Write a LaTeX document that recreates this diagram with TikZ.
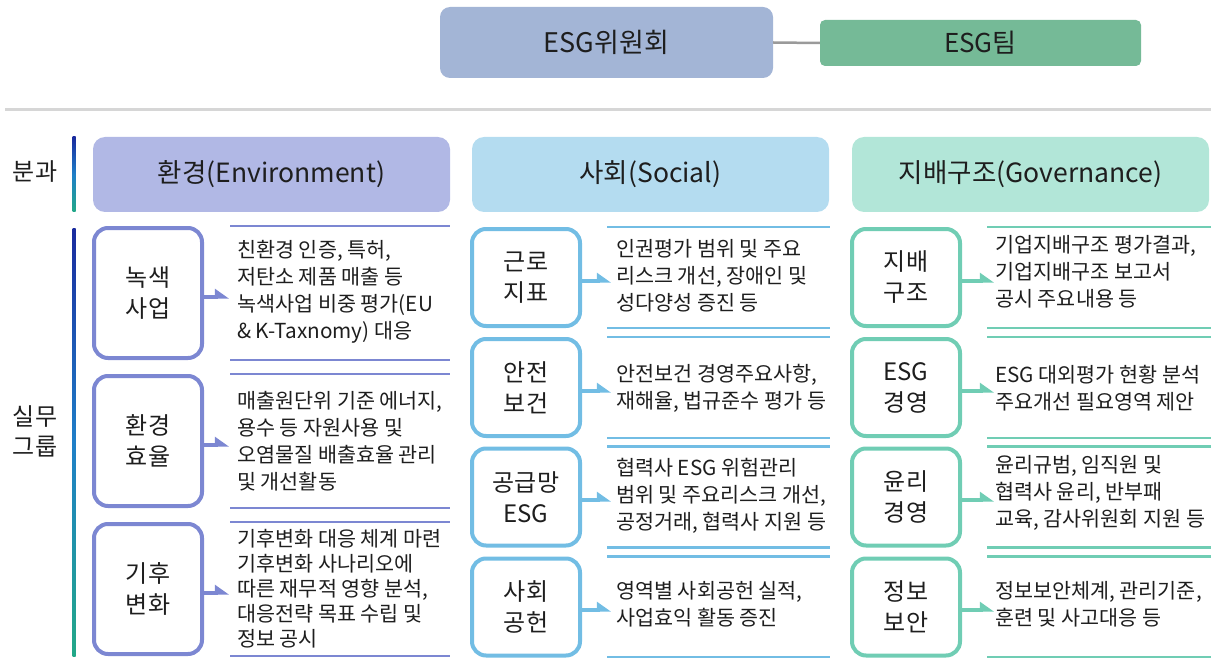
\documentclass[tikz,border=0pt]{standalone}
\usepackage{fontspec}
\setmainfont{Noto Sans CJK KR}
\usetikzlibrary{arrows.meta}
\definecolor{txt}{HTML}{1E1E1E}
\definecolor{envD}{HTML}{7C87D2}
\definecolor{envL}{HTML}{B1B8E5}
\definecolor{socD}{HTML}{72BDE4}
\definecolor{socL}{HTML}{B4DCF0}
\definecolor{govD}{HTML}{70CDB4}
\definecolor{govL}{HTML}{B2E6D8}
\definecolor{comm}{HTML}{A3B5D6}
\definecolor{team}{HTML}{75BA97}
\definecolor{sepc}{HTML}{D6D6D6}
\definecolor{linkc}{HTML}{9A9A9A}
\definecolor{barT}{HTML}{1A2B9E}
\definecolor{barM}{HTML}{1F7FC8}
\definecolor{barB}{HTML}{22A887}
\begin{document}
\begin{tikzpicture}[x=1pt,y=-1pt,
  every node/.style={text=txt},
  lbl/.style={draw=#1, line width=4pt, rounded corners=14pt, fill=white, minimum width=108pt, align=center, font=\fontsize{24}{31}\selectfont},
  hdr/.style={fill=#1, rounded corners=12pt, minimum width=357pt, minimum height=75pt, font=\fontsize{26.5}{30}\selectfont},
  desc/.style={anchor=west, align=left, font=\fontsize{20.7}{27}\selectfont, inner sep=0pt},
  rule/.style={draw=#1, line width=2.5pt},
  arr/.style={draw=#1, line width=4pt, -{Triangle[harpoon,length=12pt,width=16pt]}},
  side/.style={font=\fontsize{24}{30}\selectfont, align=center},
]
\useasboundingbox (0,0) rectangle (1211,658);

% top
\node[fill=comm, rounded corners=10pt, minimum width=333pt, minimum height=71pt, font=\fontsize{27}{30}\selectfont] (com) at (606.5,42.5) {ESG위원회};
\node[fill=team, rounded corners=5pt, minimum width=321pt, minimum height=46pt, font=\fontsize{26}{30}\selectfont] (tm) at (980.5,43) {ESG팀};
\draw[linkc, line width=2.5pt] (com.east) -- (tm.west);
\draw[sepc, line width=3pt] (5,110) -- (1211,110);

% side labels and bars
\node[side] (bun) at (35,172) {분과};
\node[side] (sil) at (35,431) {실무\\그룹};
\shade[top color=barT, bottom color=barB, middle color=barM] (72.5,137) rectangle (75.5,212);
\shade[top color=barT, bottom color=barB, middle color=barM] (72.5,228) rectangle (75.5,656);

% headers
\node[hdr=envL] (he) at (271.5,174.5) {환경(Environment)};
\node[hdr=socL] (hs) at (650.5,174.5) {사회(Social)};
\node[hdr=govL] (hg) at (1030.5,174.5) {지배구조(Governance)};

% environment column
\node[lbl=envD, minimum height=130pt] (e1) at (148,293) {녹색\\사업};
\node[lbl=envD, minimum height=130pt] (e2) at (148,441) {환경\\효율};
\node[lbl=envD, minimum height=130pt] (e3) at (148,589) {기후\\변화};
\foreach \c in {293,441,589}{
  \draw[rule=envD] (230,\c-67) -- (450,\c-67);
  \draw[rule=envD] (230,\c+67) -- (450,\c+67);
}
\node[desc] (e1d) at (237,292) {친환경 인증, 특허,\\저탄소 제품 매출 등\\녹색사업 비중 평가(EU\\\& K-Taxnomy) 대응};
\node[desc] (e2d) at (237,441) {매출원단위 기준 에너지,\\용수 등 자원사용 및\\오염물질 배출효율 관리\\및 개선활동};
\node[desc, font=\fontsize{20.7}{25}\selectfont] (e3d) at (237,589) {기후변화 대응 체계 마련\\기후변화 사나리오에\\따른 재무적 영향 분석,\\대응전략 목표 수립 및\\정보 공시};
\coordinate (e1t) at (229,297);
\coordinate (e2t) at (229,445);
\coordinate (e3t) at (229,593);
\draw[arr=envD] (e1.east |- e1t) -- (e1t);
\draw[arr=envD] (e2.east |- e2t) -- (e2t);
\draw[arr=envD] (e3.east |- e3t) -- (e3t);

% social column
\node[lbl=socD, minimum height=97pt] (s1) at (526,277.5) {근로\\지표};
\node[lbl=socD, minimum height=97pt] (s2) at (526,387.5) {안전\\보건};
\node[lbl=socD, minimum height=97pt] (s3) at (526,497) {공급망\\ESG};
\node[lbl=socD, minimum height=97pt] (s4) at (526,607) {사회\\공헌};
\foreach \c in {277.5,387.5,497,607}{
  \draw[rule=socD] (607,\c-50.5) -- (830,\c-50.5);
  \draw[rule=socD] (607,\c+50.5) -- (830,\c+50.5);
}
\node[desc] (s1d) at (616,276) {인권평가 범위 및 주요\\리스크 개선, 장애인 및\\성다양성 증진 등};
\node[desc] (s2d) at (616,388) {안전보건 경영주요사항,\\재해율, 법규준수 평가 등};
\node[desc] (s3d) at (616,496) {협력사 ESG 위험관리\\범위 및 주요리스크 개선,\\공정거래, 협력사 지원 등};
\node[desc] (s4d) at (616,604) {영역별 사회공헌 실적,\\사업효익 활동 증진};
\coordinate (s1t) at (611,281);
\coordinate (s2t) at (611,391);
\coordinate (s3t) at (611,500);
\coordinate (s4t) at (611,610);
\draw[arr=socD] (s1.east |- s1t) -- (s1t);
\draw[arr=socD] (s2.east |- s2t) -- (s2t);
\draw[arr=socD] (s3.east |- s3t) -- (s3t);
\draw[arr=socD] (s4.east |- s4t) -- (s4t);

% governance column
\node[lbl=govD, minimum height=97pt] (g1) at (906,277.5) {지배\\구조};
\node[lbl=govD, minimum height=97pt] (g2) at (906,387.5) {ESG\\경영};
\node[lbl=govD, minimum height=97pt] (g3) at (906,497) {윤리\\경영};
\node[lbl=govD, minimum height=97pt] (g4) at (906,607) {정보\\보안};
\foreach \c in {277.5,387.5,497,607}{
  \draw[rule=govD] (987,\c-50.5) -- (1211,\c-50.5);
  \draw[rule=govD] (987,\c+50.5) -- (1211,\c+50.5);
}
\node[desc] (g1d) at (995,272) {기업지배구조 평가결과,\\기업지배구조 보고서\\공시 주요내용 등};
\node[desc] (g2d) at (995,388) {ESG 대외평가 현황 분석\\주요개선 필요영역 제안};
\node[desc] (g3d) at (995,493) {윤리규범, 임직원 및\\협력사 윤리, 반부패\\교육, 감사위원회 지원 등};
\node[desc] (g4d) at (995,604) {정보보안체계, 관리기준,\\훈련 및 사고대응 등};
\coordinate (g1t) at (994,281);
\coordinate (g2t) at (994,391);
\coordinate (g3t) at (994,500);
\coordinate (g4t) at (994,610);
\draw[arr=govD] (g1.east |- g1t) -- (g1t);
\draw[arr=govD] (g2.east |- g2t) -- (g2t);
\draw[arr=govD] (g3.east |- g3t) -- (g3t);
\draw[arr=govD] (g4.east |- g4t) -- (g4t);
\end{tikzpicture}
\end{document}
